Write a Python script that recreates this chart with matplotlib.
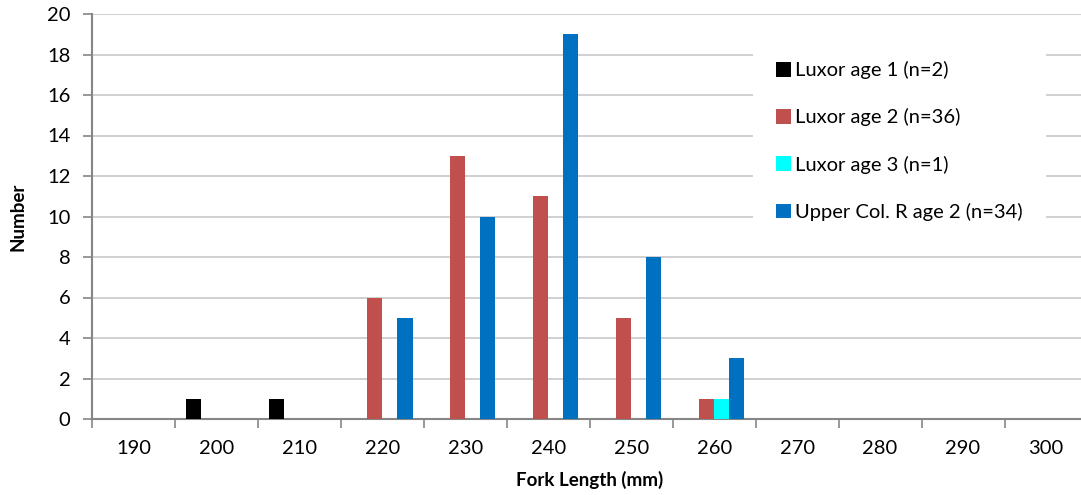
import numpy as np
import matplotlib.pyplot as plt

plt.rcParams['font.family'] = ['Lato', 'DejaVu Sans']

lengths = [190, 200, 210, 220, 230, 240, 250, 260, 270, 280, 290, 300]
luxor_age1 = [0, 1, 1, 0, 0, 0, 0, 0, 0, 0, 0, 0]
luxor_age2 = [0, 0, 0, 6, 13, 11, 5, 1, 0, 0, 0, 0]
luxor_age3 = [0, 0, 0, 0, 0, 0, 0, 1, 0, 0, 0, 0]
upper_col_age2 = [0, 0, 0, 5, 10, 19, 8, 3, 0, 0, 0, 0]

series = [
    ('Luxor age 1 (n=2)', luxor_age1, '#000000'),
    ('Luxor age 2 (n=36)', luxor_age2, '#C0504D'),
    ('Luxor age 3 (n=1)', luxor_age3, '#00FFFF'),
    ('Upper Col. R age 2 (n=34)', upper_col_age2, '#0070C0'),
]

fig = plt.figure(figsize=(10.81, 4.95), dpi=100)
ax = fig.add_axes([92 / 1081, 1 - 419 / 495, (1087.5 - 92) / 1081, (419 - 14) / 495])

x = np.arange(len(lengths))
w = 1 / 5.5  # Excel-style gap width of 150%
for i, (label, vals, color) in enumerate(series):
    offs = -0.5 + 0.75 * w + w * (i + 0.5)
    ax.bar(x + offs, vals, width=w, color=color, label=label, zorder=3)

ax.set_xlim(-0.5, len(lengths) - 0.5)
ax.set_ylim(0, 20)
ax.set_yticks(range(0, 21, 2))
ax.yaxis.grid(True, color='#C8C8C8', linewidth=1.2, zorder=0)

# category ticks sit between groups, labels centered under them
ax.set_xticks(np.arange(-0.5, len(lengths), 1))
ax.set_xticklabels([])
ax.set_xticks(x, minor=True)
ax.set_xticklabels([str(v) for v in lengths], minor=True)
ax.tick_params(axis='x', which='major', length=6.5, width=1.2, color='#868686')
ax.tick_params(axis='x', which='minor', length=0, pad=15, labelsize=14.5)
ax.tick_params(axis='y', length=6.5, width=1.2, color='#868686', labelsize=14.5, pad=9)

for side in ['top', 'right']:
    ax.spines[side].set_visible(False)
for side in ['left', 'bottom']:
    ax.spines[side].set_color('#868686')
    ax.spines[side].set_linewidth(1.5)

ax.set_xlabel('Fork Length (mm)', fontsize=13.5, fontweight='bold', labelpad=10)
ax.set_ylabel('Number', fontsize=13.5, fontweight='bold', labelpad=15)

leg = ax.legend(loc='upper left', bbox_to_anchor=(753 / 1081, 1 - 38 / 495),
                bbox_transform=fig.transFigure, frameon=True, fancybox=False,
                facecolor='white', edgecolor='none', framealpha=1,
                fontsize=14.5, handlelength=0.75, handleheight=0.75,
                handletextpad=0.2, labelspacing=1.45, borderpad=1.15,
                borderaxespad=0)
leg.set_zorder(5)
leg.get_frame().set_width(305)

fig.savefig('out.png', dpi=100)
